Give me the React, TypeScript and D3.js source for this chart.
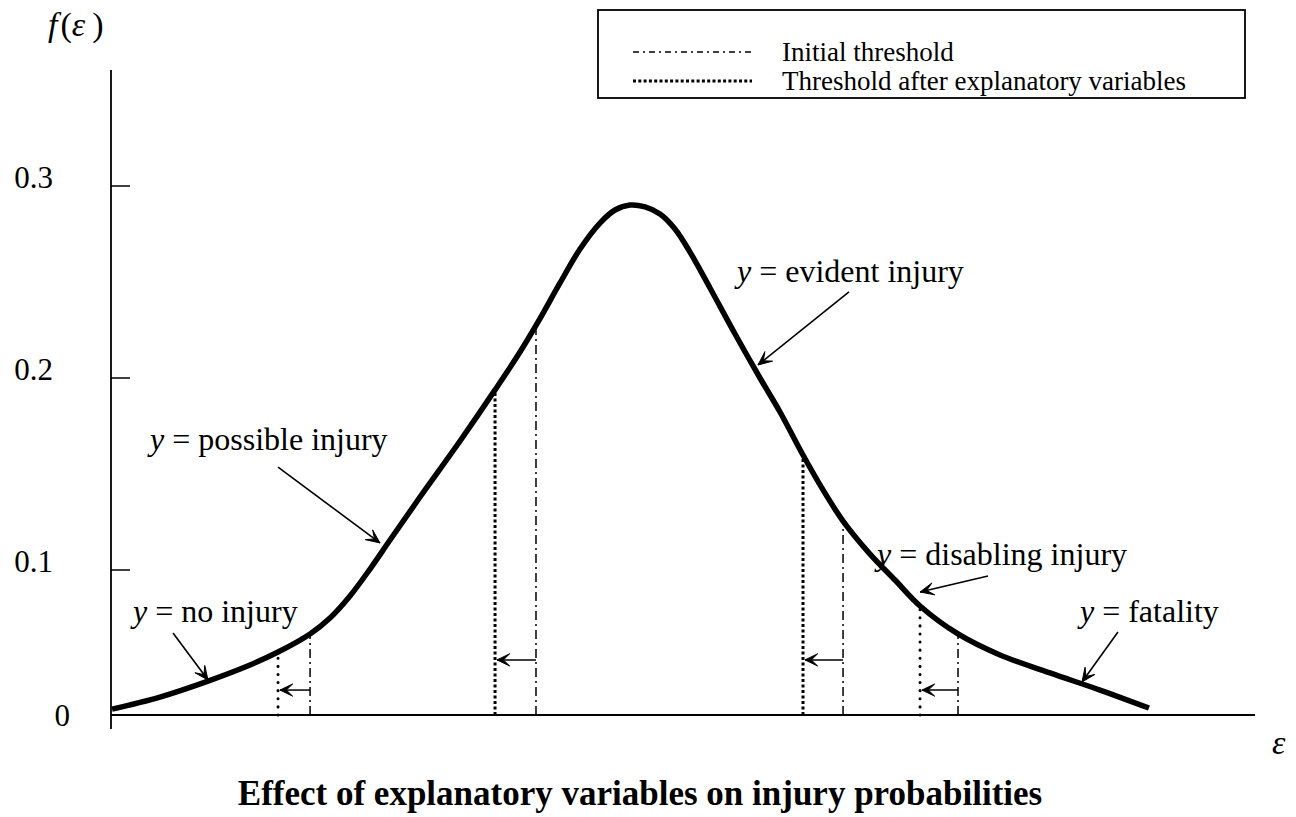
import React from "react";
import * as d3 from "d3";

// ---- data ----
const curveEps = [0.009, 0.428, 0.848, 1.215, 1.46, 1.74, 1.914, 2.089, 2.264, 2.439, 2.701, 3.051, 3.357, 3.575, 3.733, 3.925, 4.1, 4.274, 4.406, 4.537, 4.668, 4.799, 4.93, 5.061, 5.236, 5.455, 5.673, 5.848, 6.049, 6.224, 6.399, 6.635, 6.853, 7.072, 7.404, 7.771, 8.208, 8.645, 9.073];
const curveF = [0.0041, 0.0124, 0.0234, 0.0345, 0.0434, 0.0559, 0.0669, 0.0821, 0.1005, 0.1156, 0.138, 0.1672, 0.1938, 0.2135, 0.2292, 0.2495, 0.2672, 0.2807, 0.2875, 0.2901, 0.2891, 0.2854, 0.2776, 0.2656, 0.2469, 0.2229, 0.2, 0.1823, 0.1599, 0.1417, 0.1255, 0.1083, 0.0931, 0.0752, 0.0559, 0.0414, 0.029, 0.0172, 0.0048];

const initialThresholds = [1.74, 3.715, 6.399, 7.404];
const shiftedThresholds = [1.46, 3.357, 6.049, 7.072];
const shiftArrowLevel = [0.0172, 0.038, 0.038, 0.0172];
const dottedStyle = ["round", "square", "square", "round"];

const yTicks = [0, 0.1, 0.2, 0.3];
const yTickLabels = ["0", "0.1", "0.2", "0.3"];

const labelNames = ["no injury", "possible injury", "evident injury", "disabling injury", "fatality"];
const labelEps = [0.192, 0.341, 5.472, 6.696, 8.47];
const labelF = [0.0641, 0.1625, 0.25, 0.1026, 0.0641];
const arrowFromEps = [0.542, 1.46, 6.451, 7.666, 8.802];
const arrowFromF = [0.0566, 0.1536, 0.2448, 0.0959, 0.0572];
const arrowToEps = [0.848, 2.351, 5.656, 7.072, 8.488];
const arrowToF = [0.0241, 0.1141, 0.2068, 0.0848, 0.0228];

const legendLabels = ["Initial threshold", "Threshold after explanatory variables"];
const title = "Effect of explanatory variables on injury probabilities";

const FONT = "'Liberation Serif', 'Times New Roman', serif";

function interpF(e: number) {
  const i = d3.bisectLeft(curveEps, e);
  if (i <= 0) return curveF[0];
  if (i >= curveEps.length) return curveF[curveF.length - 1];
  const t = (e - curveEps[i - 1]) / (curveEps[i] - curveEps[i - 1]);
  return curveF[i - 1] + t * (curveF[i] - curveF[i - 1]);
}

function arrowHead(x1: number, y1: number, x2: number, y2: number, len = 14, ang = 0.42) {
  const a = Math.atan2(y2 - y1, x2 - x1);
  const p1 = [x2 - len * Math.cos(a - ang), y2 - len * Math.sin(a - ang)];
  const p2 = [x2 - len * Math.cos(a + ang), y2 - len * Math.sin(a + ang)];
  const back = [x2 - len * 0.45 * Math.cos(a), y2 - len * 0.45 * Math.sin(a)];
  return `M${p1[0]},${p1[1]} L${x2},${y2} L${p2[0]},${p2[1]} L${back[0]},${back[1]} Z`;
}

export default function App() {
  const x = d3.scaleLinear().domain([0, 10]).range([111, 1255]);
  const y = d3.scaleLinear().domain([0, 0.1, 0.3]).range([715, 570, 186]);

  const line = d3
    .line<number>()
    .x((_, i) => x(curveEps[i]))
    .y((_, i) => y(curveF[i]))
    .curve(d3.curveCatmullRom.alpha(0.5));

  const dashDot = "9,4,2,4";

  return (
    <svg width={1296} height={817} style={{ position: "absolute", left: 0, top: 0, background: "#fff" }} fontFamily={FONT}>
      {/* axes */}
      <line x1={x(0)} x2={x(0)} y1={70} y2={729} stroke="#000" strokeWidth={1.8} />
      <line x1={x(0)} x2={x(10)} y1={y(0)} y2={y(0)} stroke="#000" strokeWidth={1.8} />
      {yTicks.map((t, i) =>
        t > 0 ? <line key={"t" + i} x1={x(0)} x2={x(0) + 19} y1={y(t)} y2={y(t)} stroke="#000" strokeWidth={1.5} /> : null
      )}
      {yTicks.map((t, i) => (
        <text key={"l" + i} x={t > 0 ? x(0) - 58 : x(0) - 41} y={y(t)} dy={t > 0 ? "0.05em" : "0.35em"} textAnchor="end" fontSize={31}>
          {yTickLabels[i]}
        </text>
      ))}
      <text x={48} y={36} fontSize={34} fontStyle="italic">
        f<tspan fontStyle="normal" dx={3}>(</tspan>ε<tspan fontStyle="normal" dx={7}>)</tspan>
      </text>
      <text x={1272} y={754} fontSize={34} fontStyle="italic">ε</text>

      {/* thresholds */}
      {initialThresholds.map((e, i) => (
        <line key={"i" + i} x1={x(e)} x2={x(e)} y1={y(0)} y2={y(interpF(e))} stroke="#000" strokeWidth={1.5} strokeDasharray={dashDot} />
      ))}
      {shiftedThresholds.map((e, i) => (
        <line
          key={"s" + i}
          x1={x(e)}
          x2={x(e)}
          y1={y(0)}
          y2={y(interpF(e))}
          stroke="#000"
          strokeWidth={3}
          strokeLinecap={dottedStyle[i] === "round" ? "round" : "butt"}
          strokeDasharray={dottedStyle[i] === "round" ? "0.1,8" : "3,2.5"}
        />
      ))}
      {initialThresholds.map((e, i) => {
        const x1 = x(e), x2 = x(shiftedThresholds[i]) + 2, yy = y(shiftArrowLevel[i]);
        return (
          <g key={"a" + i}>
            <line x1={x1} x2={x2} y1={yy} y2={yy} stroke="#000" strokeWidth={1.5} />
            <path d={arrowHead(x1, yy, x2, yy, 14, 0.45)} fill="#000" stroke="#000" strokeWidth={1} />
          </g>
        );
      })}

      {/* curve */}
      <path d={line(curveF) || ""} fill="none" stroke="#000" strokeWidth={5.5} />

      {/* annotations */}
      {labelNames.map((n, i) => {
        const x1 = x(arrowFromEps[i]), y1 = y(arrowFromF[i]);
        const x2 = x(arrowToEps[i]), y2 = y(arrowToF[i]);
        return (
          <g key={"n" + i}>
            <text x={x(labelEps[i])} y={y(labelF[i])} fontSize={32}>
              <tspan fontStyle="italic">y</tspan> = {n}
            </text>
            <line x1={x1} y1={y1} x2={x2} y2={y2} stroke="#000" strokeWidth={1.6} />
            <path d={arrowHead(x1, y1, x2, y2, 15, 0.42)} fill="#000" stroke="#000" strokeWidth={1} />
          </g>
        );
      })}

      {/* legend */}
      <rect x={598} y={10} width={647} height={88} fill="#fff" stroke="#000" strokeWidth={1.8} />
      <line x1={633} x2={752} y1={52} y2={52} stroke="#000" strokeWidth={1.5} strokeDasharray="6,4,2,4" />
      <line x1={633} x2={752} y1={81} y2={81} stroke="#000" strokeWidth={3} strokeDasharray="3,2.3" />
      {legendLabels.map((l, i) => (
        <text key={"lg" + i} x={782} y={52 + i * 29} dy="0.35em" fontSize={27}>
          {l}
        </text>
      ))}

      {/* title */}
      <text x={640} y={805} textAnchor="middle" fontSize={35} fontWeight="bold">
        {title}
      </text>
    </svg>
  );
}
